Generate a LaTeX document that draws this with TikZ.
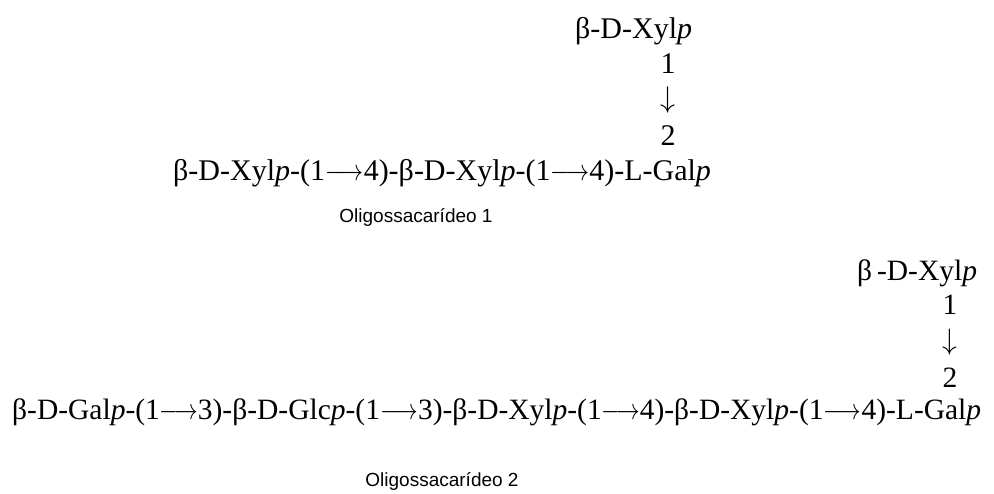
\RequirePackage{fix-cm}
\documentclass[tikz,border=0pt]{standalone}
\usepackage{fontspec}
\setmainfont{Liberation Serif}
\newfontfamily\labelfont{Liberation Sans}
\newcommand\linkarr{\scalebox{0.8}[1]{$\longrightarrow$}}
\newcommand\downarr{$\downarrow$}
\begin{document}
\begin{tikzpicture}[x=1pt,y=-1pt,
  chainA/.style={inner sep=0pt,anchor=base west,font=\fontsize{30}{36}\selectfont},
  numA/.style={inner sep=0pt,anchor=center,font=\fontsize{30}{36}\selectfont},
  chainB/.style={inner sep=0pt,anchor=base west,font=\fontsize{29.5}{35}\selectfont},
  numB/.style={inner sep=0pt,anchor=center,font=\fontsize{29.5}{35}\selectfont},
  caption/.style={inner sep=0pt,anchor=center,font=\labelfont\fontsize{19}{22}\selectfont}]
\useasboundingbox[fill=white] (0,0) rectangle (994,493);
% Oligosaccharide 1
\node[chainA] (x1) at (575,38) {β-D-Xyl\textit{p}};
\node[numA] (a1) at (668,64) {1};
\node[numA] (b1) at (668,100) {\downarr};
\node[numA] (c1) at (668,136) {2};
\node[chainA] (m1) at (173,180) {β-D-Xyl\textit{p}-(1\linkarr4)-β-D-Xyl\textit{p}-(1\linkarr4)-L-Gal\textit{p}};
\node[caption] (o1) at (416,217) {Oligossacarídeo 1};
% Oligosaccharide 2
\node[chainB] (x2) at (857,280) {β\,-D-Xyl\textit{p}};
\node[numB] (a2) at (950,305) {1};
\node[numB] (b2) at (950,342) {\downarr};
\node[numB] (c2) at (950,378) {2};
\node[chainB] (m2) at (12,419) {β-D-Gal\textit{p}-(1\linkarr3)-β-D-Glc\textit{p}-(1\linkarr3)-β-D-Xyl\textit{p}-(1\linkarr4)-β-D-Xyl\textit{p}-(1\linkarr4)-L-Gal\textit{p}};
\node[caption] (o2) at (442,481) {Oligossacarídeo 2};
\end{tikzpicture}
\end{document}
